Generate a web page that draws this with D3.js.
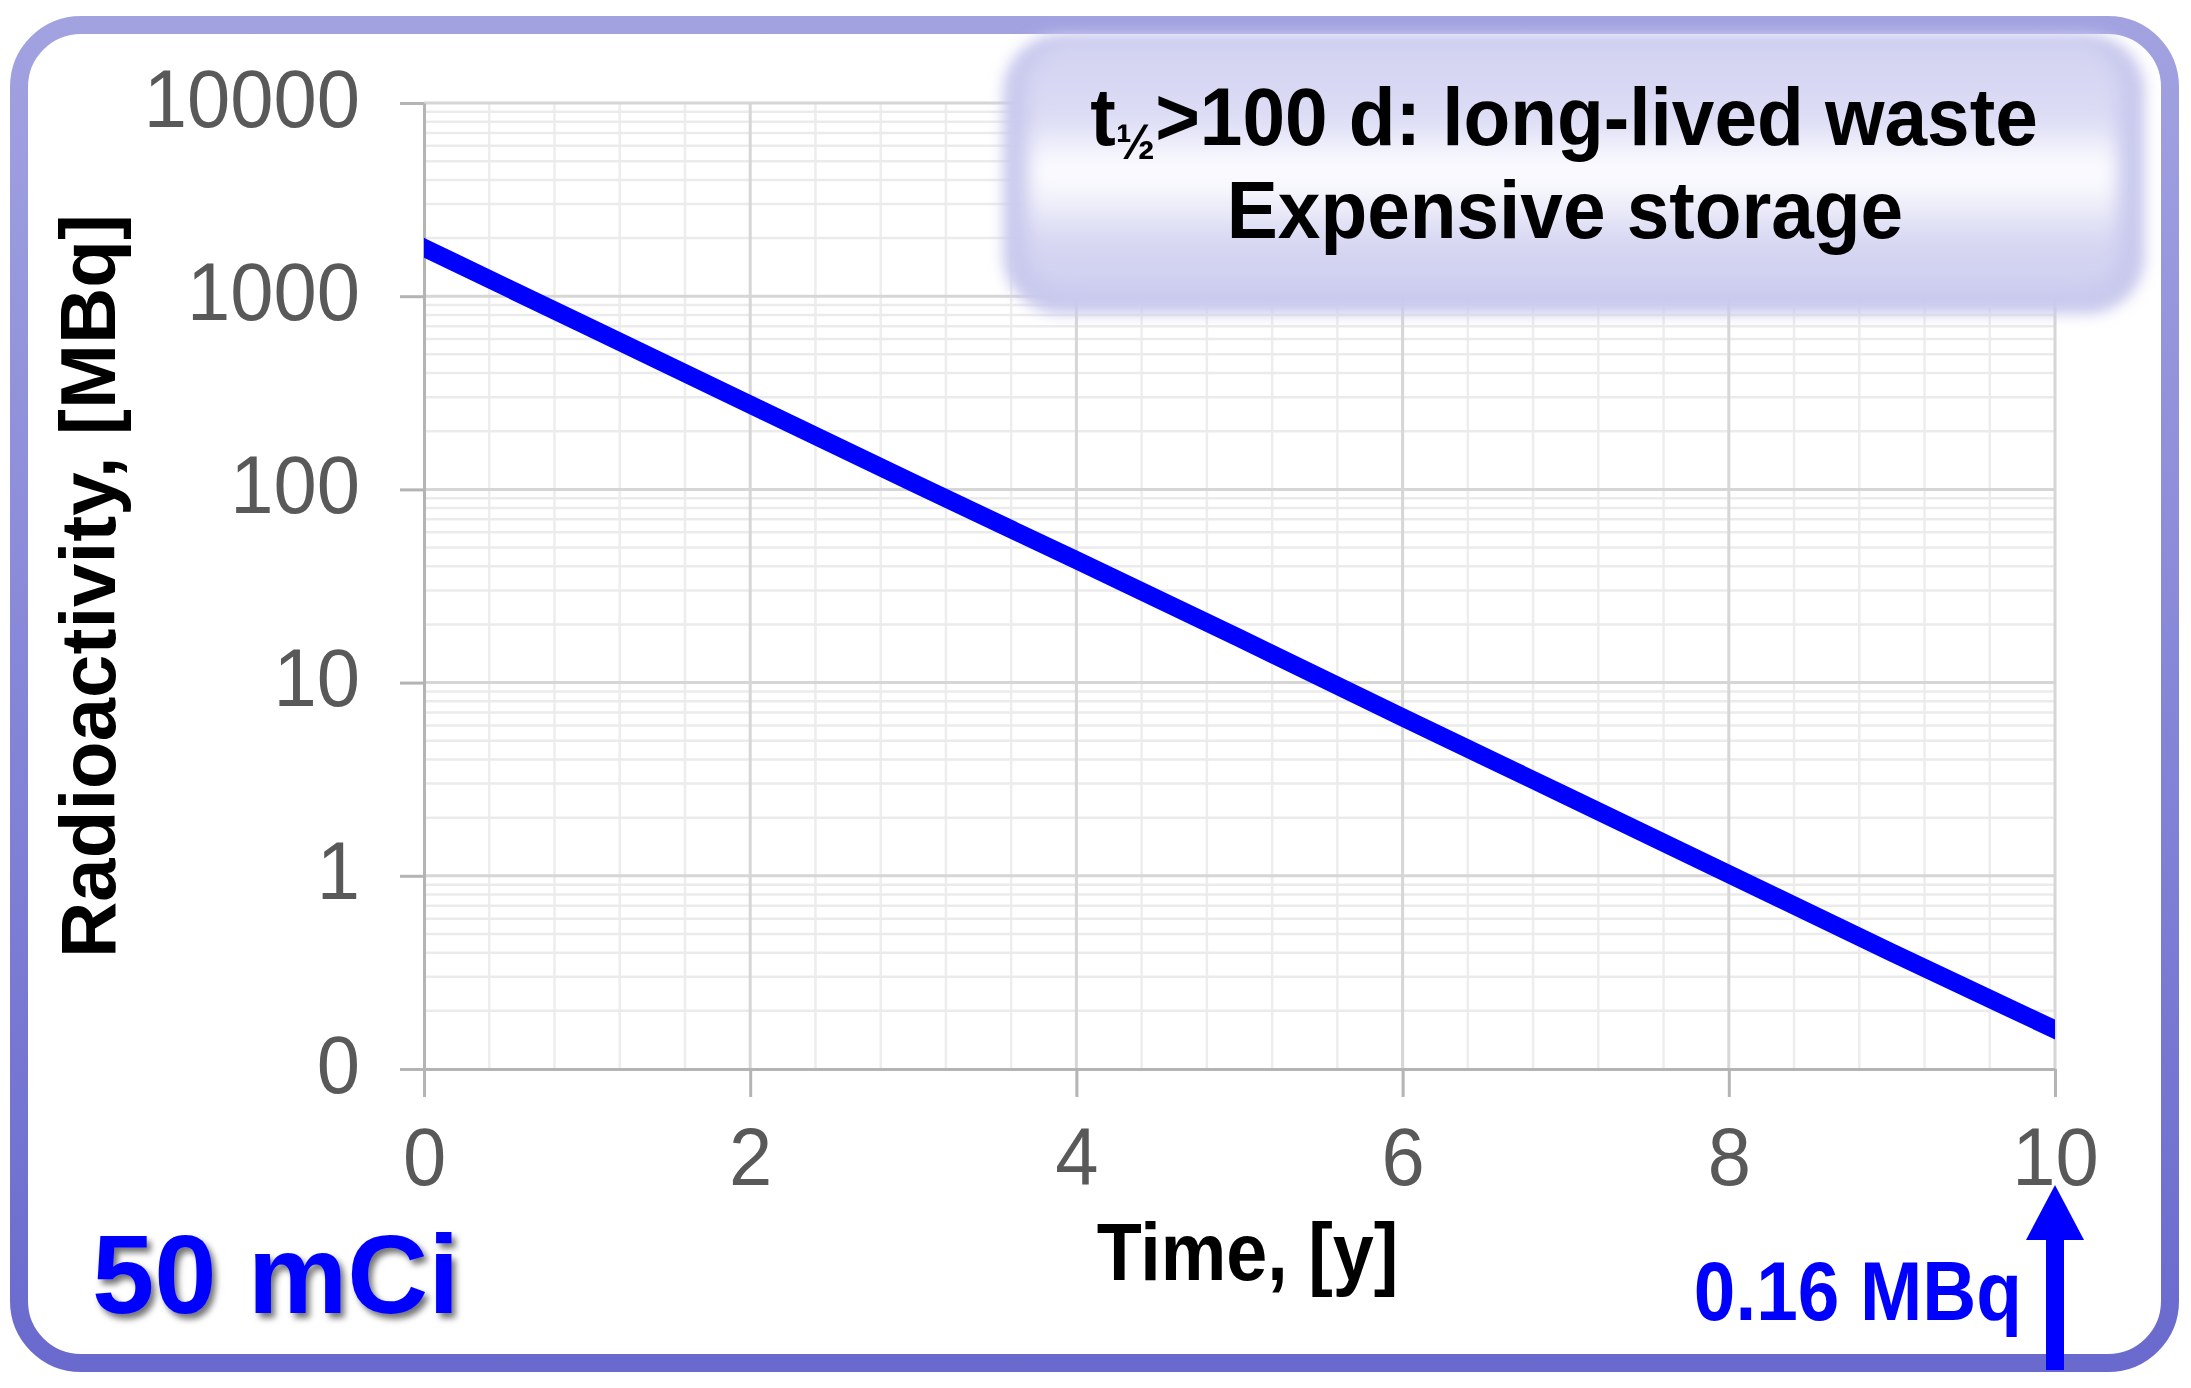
<!DOCTYPE html>
<html>
<head>
<meta charset="utf-8">
<script src="https://cdn.jsdelivr.net/npm/d3@7"></script>
<style>
  html, body { margin: 0; padding: 0; background: #ffffff; }
  svg { display: block; }
</style>
</head>
<body>
<script>
// ---- data ----
const years = [0, 1, 2, 3, 4, 5, 6, 7, 8, 9, 10];
const activity = [1780, 700, 275, 108, 43, 17, 6.6, 2.6, 1.02, 0.40, 0.16];
const xTicks = [0, 2, 4, 6, 8, 10];
const yTicks = [0.1, 1, 10, 100, 1000, 10000];
const yTickLabels = ["0", "1", "10", "100", "1000", "10000"];
const boxLines = ["Expensive storage"];
const xTitle = "Time, [y]";
const yTitle = "Radioactivity, [MBq]";
const sourceLabel = "50 mCi";
const endLabel = "0.16 MBq";

const W = 2191, H = 1388;
const FONT = "'Liberation Sans', Arial, Helvetica, sans-serif";

const svg = d3.select("body").append("svg").attr("width", W).attr("height", H);
const defs = svg.append("defs");

// border gradient
const bg = defs.append("linearGradient").attr("id", "borderGrad").attr("x1", 0).attr("y1", 0).attr("x2", 0).attr("y2", 1);
bg.append("stop").attr("offset", "0%").attr("stop-color", "#a2a2e1");
bg.append("stop").attr("offset", "100%").attr("stop-color", "#6a6ace");

// box gradient
const boxG = defs.append("linearGradient").attr("id", "boxGrad").attr("x1", 0).attr("y1", 0).attr("x2", 0).attr("y2", 1);
[["0%", "#d3d3f2"], ["30%", "#dcdcf5"], ["48%", "#fbfbff"], ["58%", "#f7f7fd"], ["78%", "#d8d8f3"], ["100%", "#cdcdf0"]]
  .forEach(s => boxG.append("stop").attr("offset", s[0]).attr("stop-color", s[1]));

defs.append("filter").attr("id", "blurOuter").attr("x", "-10%").attr("y", "-20%").attr("width", "120%").attr("height", "140%")
  .append("feGaussianBlur").attr("stdDeviation", 7);
defs.append("filter").attr("id", "blurInner").attr("x", "-10%").attr("y", "-20%").attr("width", "120%").attr("height", "140%")
  .append("feGaussianBlur").attr("stdDeviation", 9);
const sh = defs.append("filter").attr("id", "shadow").attr("x", "-10%").attr("y", "-20%").attr("width", "130%").attr("height", "150%");
sh.append("feDropShadow").attr("dx", 4).attr("dy", 5).attr("stdDeviation", 3).attr("flood-color", "#000").attr("flood-opacity", 0.55);

// outer frame
svg.append("rect")
  .attr("x", 19).attr("y", 25).attr("width", 2151).attr("height", 1338)
  .attr("rx", 62).attr("ry", 62)
  .attr("fill", "#ffffff").attr("stroke", "url(#borderGrad)").attr("stroke-width", 18);

// scales
const x = d3.scaleLinear().domain([0, 10]).range([424, 2055]);
const y = d3.scaleLog().domain([0.1, 10000]).range([1069, 103]);

const plot = svg.append("g");

// minor grid
const xMinor = d3.range(0, 10.001, 0.4).map(v => +v.toFixed(2)).filter(v => xTicks.indexOf(v) < 0);
const yMinor = [];
yTicks.slice(0, -1).forEach(d => { for (let k = 2; k <= 9; k++) yMinor.push(d * k); });

plot.append("g").selectAll("line").data(xMinor).join("line")
  .attr("x1", d => x(d)).attr("x2", d => x(d)).attr("y1", y(10000)).attr("y2", y(0.1))
  .attr("stroke", "#ededed").attr("stroke-width", 2.5);
plot.append("g").selectAll("line").data(yMinor).join("line")
  .attr("x1", x(0)).attr("x2", x(10)).attr("y1", d => y(d)).attr("y2", d => y(d))
  .attr("stroke", "#ebebeb").attr("stroke-width", 2.5);
// major grid
plot.append("g").selectAll("line").data(xTicks.slice(1)).join("line")
  .attr("x1", d => x(d)).attr("x2", d => x(d)).attr("y1", y(10000)).attr("y2", y(0.1))
  .attr("stroke", "#d6d6d6").attr("stroke-width", 3);
plot.append("g").selectAll("line").data(yTicks.slice(1)).join("line")
  .attr("x1", x(0)).attr("x2", x(10)).attr("y1", d => y(d)).attr("y2", d => y(d))
  .attr("stroke", "#d6d6d6").attr("stroke-width", 3);

// axes
const yAxis = d3.axisLeft(y).tickValues(yTicks).tickFormat((d, i) => yTickLabels[i])
  .tickSize(24).tickSizeOuter(0);
const gy = svg.append("g").attr("transform", `translate(${x(0)},0)`).call(yAxis);
const xAxis = d3.axisBottom(x).tickValues(xTicks).tickFormat(d3.format("d"))
  .tickSize(28).tickSizeOuter(0);
const gx = svg.append("g").attr("transform", `translate(0,${y(0.1)})`).call(xAxis);

[gy, gx].forEach(g => {
  g.attr("font-family", FONT).attr("font-size", 81);
  g.select(".domain").attr("stroke", "#b4b4b4").attr("stroke-width", 3);
  g.selectAll(".tick line").attr("stroke", "#b4b4b4").attr("stroke-width", 3);
  g.selectAll(".tick text").attr("fill", "#595959");
});
gy.selectAll(".tick text").attr("x", null).attr("dy", null)
  .attr("transform", "translate(-64,23) scale(0.96,1)");
gx.selectAll(".tick text").attr("y", null).attr("dy", null)
  .attr("transform", "translate(0,116) scale(0.96,1)");

// data line
defs.append("clipPath").attr("id", "plotClip").append("rect")
  .attr("x", x(0)).attr("y", y(10000) - 30).attr("width", x(10) - x(0)).attr("height", y(0.1) - y(10000) + 30);
const line = d3.line().x((d, i) => x(years[i])).y(d => y(d));
svg.append("path").datum(activity)
  .attr("clip-path", "url(#plotClip)")
  .attr("d", line)
  .attr("fill", "none").attr("stroke", "#0000ff").attr("stroke-width", 18)
  .attr("stroke-linecap", "square").attr("stroke-linejoin", "round");

// annotation box
const box = svg.append("g");
box.append("rect").attr("x", 1003).attr("y", 34).attr("width", 1142).attr("height", 280)
  .attr("rx", 58).attr("fill", "#c9c9ee").attr("filter", "url(#blurOuter)");
box.append("rect").attr("x", 1028).attr("y", 44).attr("width", 1090).attr("height", 250)
  .attr("rx", 46).attr("fill", "url(#boxGrad)").attr("filter", "url(#blurInner)");

const t1 = box.append("g").attr("transform", "translate(1564,145) scale(0.945,1)")
  .append("text").attr("text-anchor", "middle").attr("font-family", FONT)
  .attr("font-weight", "bold").attr("font-size", 81).attr("fill", "#000");
t1.append("tspan").text("t");
t1.append("tspan").attr("font-size", 50).attr("dy", 14).text("½");
t1.append("tspan").attr("dy", -14).text(">100 d: long-lived waste");

box.append("g").attr("transform", "translate(1565,238) scale(0.945,1)")
  .append("text").attr("text-anchor", "middle").attr("font-family", FONT)
  .attr("font-weight", "bold").attr("font-size", 81).attr("fill", "#000")
  .text(boxLines[0]);

// axis titles
svg.append("g").attr("transform", `translate(${(x(0) + x(10)) / 2 + 8},1280) scale(0.91,1)`)
  .append("text").attr("text-anchor", "middle").attr("font-family", FONT)
  .attr("font-weight", "bold").attr("font-size", 81).attr("fill", "#000").text(xTitle);

svg.append("text").attr("transform", `translate(115,${(y(0.1) + y(10000)) / 2}) rotate(-90)`)
  .attr("text-anchor", "middle").attr("font-family", FONT)
  .attr("font-weight", "bold").attr("font-size", 78).attr("fill", "#000").text(yTitle);

// source label
svg.append("text").attr("x", 92).attr("y", 1313)
  .attr("font-family", FONT).attr("font-weight", "bold").attr("font-size", 112)
  .attr("fill", "#0000ff").attr("filter", "url(#shadow)").text(sourceLabel);

// end label and arrow
svg.append("g").attr("transform", "translate(2022,1320) scale(0.89,1)")
  .append("text").attr("text-anchor", "end").attr("font-family", FONT)
  .attr("font-weight", "bold").attr("font-size", 84).attr("fill", "#0000ff").text(endLabel);

const ax = x(10);
svg.append("rect").attr("x", ax - 9).attr("y", 1236).attr("width", 18).attr("height", 134).attr("fill", "#0000ff");
svg.append("path").attr("d", `M${ax - 29},1240 L${ax + 29},1240 L${ax},1185 Z`).attr("fill", "#0000ff");
</script>
</body>
</html>
